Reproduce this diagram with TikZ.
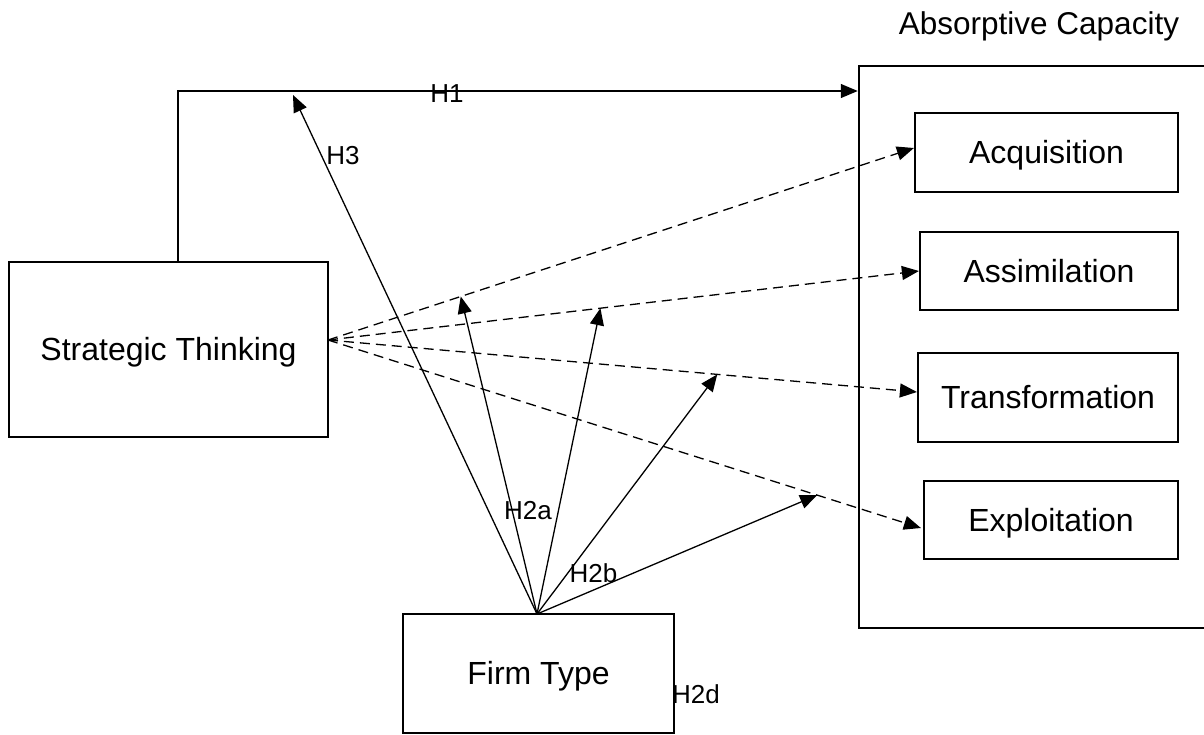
\documentclass[tikz,border=0pt]{standalone}
\usepackage{fontspec}
\setmainfont{Liberation Sans}
\usetikzlibrary{arrows.meta,calc}

\begin{document}
\begin{tikzpicture}[x=1pt,y=-1pt,
  box/.style={draw,line width=2.2pt,inner sep=0pt,
    text height=22.6pt,text depth=0pt,font=\fontsize{32}{36}\selectfont},
  title/.style={inner sep=0pt,text height=22.6pt,text depth=0pt,
    font=\fontsize{31.5}{36}\selectfont},
  hyp/.style={inner sep=0pt,text height=18.6pt,text depth=0pt,
    font=\fontsize{26}{30}\selectfont},
  link/.style={line width=1.3pt,-{Triangle[length=17pt,width=14pt]}},
  dlink/.style={link,dash pattern=on 10pt off 6pt}]

\useasboundingbox (0,0) rectangle (1204,734);
\clip (0,0) rectangle (1204,734);

% constructs
\node[box,minimum width=319pt,minimum height=175pt] (st) at (168.5,349.5) {Strategic Thinking};
\node[box,minimum width=271pt,minimum height=119pt] (ft) at (538.5,673.5) {Firm Type};

% absorptive capacity frame and its four dimensions
\node[draw,line width=2.5pt,inner sep=0pt,minimum width=351pt,minimum height=562pt] (abs) at (1034.5,347) {};
\node[title] (abstitle) at (1039,23.5) {Absorptive Capacity};
\node[box,minimum width=263pt,minimum height=79pt] (acq) at (1046.5,152.5) {Acquisition};
\node[box,minimum width=258pt,minimum height=78pt] (ass) at (1049,271) {Assimilation};
\node[box,minimum width=260pt,minimum height=89pt] (tra) at (1048,397.5) {Transformation};
\node[box,minimum width=254pt,minimum height=78pt] (exp) at (1051,520) {Exploitation};

% H1: direct effect
\coordinate (h1turn) at (178,91);
\draw[link] (st.north -| h1turn) -- (h1turn) -- (abs.west |- h1turn);
\node[hyp] (h1) at (447,93.5) {H1};

% effects on the single dimensions
\coordinate (stout) at (328,340);
\coordinate (acqin) at ([yshift=4.5pt]acq.west);
\coordinate (assin) at ([yshift=0pt]ass.west);
\coordinate (train) at ([yshift=5.5pt]tra.west);
\coordinate (expin) at ([xshift=-2pt,yshift=-8pt]exp.west);
\draw[dlink] (stout) -- (acqin);
\draw[dlink] (stout) -- (assin);
\draw[dlink] (stout) -- (train);
\draw[dlink] (stout) -- (expin);

% moderation by firm type
\coordinate (ftout) at (537,614);
\coordinate (h3end) at (293,95);
\coordinate (m1) at ($(stout)!0.2266!(acqin)$);
\coordinate (m2) at ($(stout)!0.461!(assin)$);
\coordinate (m3) at ($(stout)!0.661!(train)$);
\coordinate (m4) at ($(stout)!0.825!(expin)$);
\draw[link] (ftout) -- (h3end);
\draw[link] (ftout) -- (m1);
\draw[link] (ftout) -- (m2);
\draw[link] (ftout) -- (m3);
\draw[link] (ftout) -- (m4);

\node[hyp] (h3) at (343,155) {H3};
\node[hyp] (h2a) at (528,510.5) {H2a};
\node[hyp] (h2b) at (593.5,573) {H2b};
\node[hyp] (h2d) at (696,694.5) {H2d};
\end{tikzpicture}
\end{document}
